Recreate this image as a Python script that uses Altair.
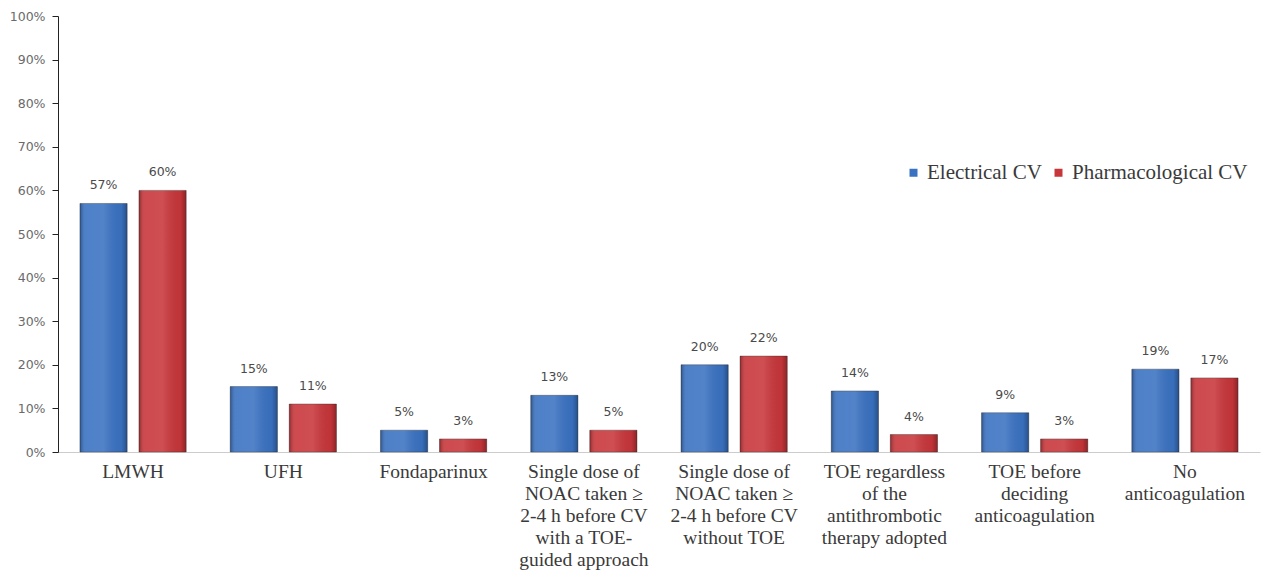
import altair as alt
import pandas as pd

categories = [
    "LMWH",
    "UFH",
    "Fondaparinux",
    "Single dose of\nNOAC taken \u2265\n2-4 h before CV\nwith a TOE-\nguided approach",
    "Single dose of\nNOAC taken \u2265\n2-4 h before CV\nwithout TOE",
    "TOE regardless\nof the\nantithrombotic\ntherapy adopted",
    "TOE before\ndeciding\nanticoagulation",
    "No\nanticoagulation",
]
electrical = [57, 15, 5, 13, 20, 14, 9, 19]
pharmacological = [60, 11, 3, 5, 22, 4, 3, 17]
series = ["Electrical CV", "Pharmacological CV"]
colors = ["#3a72c2", "#c8363a"]

rows = []
for c, e, p in zip(categories, electrical, pharmacological):
    rows.append({"cat": c, "series": series[0], "v": e / 100, "lbl": f"{e}%"})
    rows.append({"cat": c, "series": series[1], "v": p / 100, "lbl": f"{p}%"})
df = pd.DataFrame(rows)

x = alt.X("cat:N", sort=categories, title=None,
          scale=alt.Scale(paddingInner=0.293, paddingOuter=0.146),
          axis=alt.Axis(labelExpr="split(datum.label, '\\n')", labelAngle=0,
                        labelFont="Liberation Serif", labelFontSize=19.5,
                        labelColor="#3a3a3a", labelLineHeight=22.2,
                        labelPadding=10, ticks=False, domainColor="#cccccc",
                        labelLimit=300))
xo = alt.XOffset("series:N", sort=series,
                 scale=alt.Scale(paddingInner=0.2, paddingOuter=0))
y = alt.Y("v:Q", title=None,
          scale=alt.Scale(domain=[0, 1], nice=False),
          axis=alt.Axis(format=".0%", values=[i / 10 for i in range(11)],
                        grid=False, domainColor="#222222", tickColor="#222222",
                        tickSize=6, labelFont="DejaVu Sans", labelFontSize=12.5,
                        labelColor="#6a6a6a", labelPadding=7))

bars = alt.Chart(df).mark_bar(stroke="#2a2a2a", strokeWidth=0.7, strokeOpacity=0.55).encode(
    x=x, xOffset=xo, y=y,
    color=alt.Color("series:N", sort=series,
                    scale=alt.Scale(domain=series, range=colors),
                    legend=alt.Legend(title=None, orient="none", direction="horizontal",
                                      legendX=845, legendY=146, symbolType="square",
                                      symbolSize=64, labelFont="Liberation Serif",
                                      labelFontSize=21, labelColor="#3a3a3a",
                                      labelOffset=3, columnPadding=6, labelLimit=400,
                                      symbolStrokeWidth=0)),
)

shade = alt.Chart(df).mark_bar(
    fill=alt.Gradient(
        gradient="linear", x1=0, x2=1, y1=0, y2=0,
        stops=[
            alt.GradientStop(color="rgba(0,0,0,0.28)", offset=0),
            alt.GradientStop(color="rgba(255,255,255,0.10)", offset=0.12),
            alt.GradientStop(color="rgba(255,255,255,0.12)", offset=0.5),
            alt.GradientStop(color="rgba(0,0,0,0.04)", offset=0.88),
            alt.GradientStop(color="rgba(0,0,0,0.30)", offset=1),
        ],
    ),
).encode(x=alt.X("cat:N", sort=categories), xOffset=xo, y="v:Q")

labels = alt.Chart(df).mark_text(dy=-11, fontSize=12.5, font="DejaVu Sans",
                                 color="#4a4a4a", baseline="bottom").encode(
    x=alt.X("cat:N", sort=categories), xOffset=xo, y="v:Q", text="lbl:N")

chart = alt.layer(bars, shade, labels).properties(
    width=1202, height=436,
    autosize=alt.AutoSizeParams(type="none"),
    padding={"left": 58, "top": 16, "right": 10, "bottom": 120},
    background="white",
).configure_view(stroke=None)

chart.save("out.html", embed_options={"renderer": "svg", "actions": False})
